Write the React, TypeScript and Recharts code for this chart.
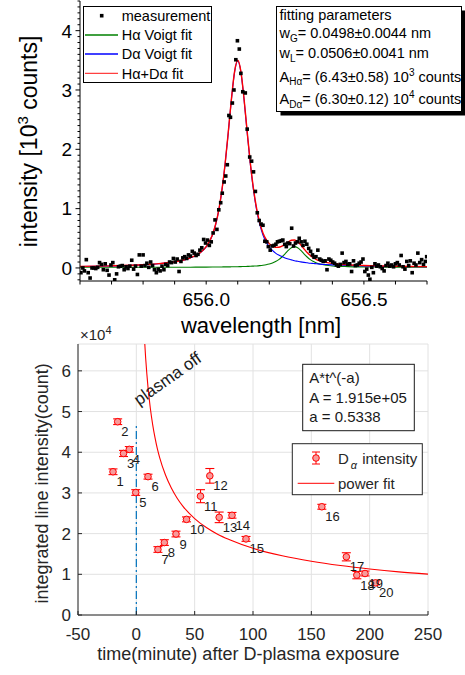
import { CartesianGrid, ComposedChart, ErrorBar, LabelList, Line, ReferenceLine, Scatter, XAxis, YAxis } from "recharts"

const FONT = "'Liberation Sans', Arial, Helvetica, sans-serif"
const INK = "#262626"

// top panel: measured spectrum around 656 nm
const wlMeas = [
  655.603, 655.609, 655.614, 655.620, 655.626, 655.632, 655.638, 655.644, 655.650, 655.656,
  655.662, 655.668, 655.674, 655.680, 655.686, 655.692, 655.698, 655.704, 655.710, 655.716,
  655.722, 655.728, 655.734, 655.740, 655.746, 655.752, 655.758, 655.764, 655.770, 655.776,
  655.782, 655.788, 655.794, 655.800, 655.806, 655.812, 655.818, 655.824, 655.830, 655.836,
  655.842, 655.848, 655.854, 655.860, 655.866, 655.872, 655.878, 655.884, 655.890, 655.896,
  655.902, 655.908, 655.914, 655.920, 655.926, 655.932, 655.938, 655.944, 655.950, 655.956,
  655.962, 655.968, 655.974, 655.980, 655.986, 655.992, 655.998, 656.004, 656.010, 656.016,
  656.022, 656.028, 656.034, 656.040, 656.046, 656.051, 656.057, 656.062, 656.067, 656.072,
  656.077, 656.083, 656.088, 656.094, 656.099, 656.105, 656.110, 656.116, 656.124, 656.130,
  656.138, 656.144, 656.150, 656.156, 656.162, 656.168, 656.174, 656.180, 656.186, 656.192,
  656.197, 656.203, 656.209, 656.215, 656.221, 656.226, 656.232, 656.238, 656.243, 656.249,
  656.254, 656.259, 656.265, 656.271, 656.277, 656.283, 656.289, 656.295, 656.301, 656.307,
  656.313, 656.319, 656.325, 656.331, 656.337, 656.342, 656.348, 656.354, 656.360, 656.365,
  656.371, 656.377, 656.383, 656.389, 656.395, 656.401, 656.407, 656.413, 656.419, 656.425,
  656.431, 656.437, 656.443, 656.449, 656.455, 656.461, 656.467, 656.473, 656.479, 656.485,
  656.491, 656.497, 656.503, 656.509, 656.514, 656.519, 656.525, 656.530, 656.535, 656.541,
  656.546, 656.552, 656.558, 656.564, 656.570, 656.576, 656.582, 656.588, 656.594, 656.600,
  656.606, 656.612, 656.618, 656.624, 656.630, 656.636, 656.642, 656.647, 656.653, 656.659,
  656.665, 656.671, 656.677, 656.683, 656.689, 656.695, 656.699,
]
const meas = [
  -0.08, 0.0, -0.05, 0.14, -0.08, -0.17, 0.0, 0.0, -0.01, 0.01,
  0.09, 0.06, -0.03, 0.07, -0.04, -0.12, 0.05, 0.09, -0.2, -0.1,
  0.02, 0.03, 0.04, -0.03, 0.02, -0.01, 0.03, 0.13, -0.02, 0.03,
  -0.11, 0.22, 0.03, 0.22, 0.04, 0.08, 0.01, 0.1, 0.04, -0.03,
  -0.08, -0.02, -0.05, 0.03, -0.03, 0.06, 0.04, 0.1, 0.09, 0.16,
  0.1, 0.15, -0.06, 0.11, 0.17, 0.19, 0.16, 0.22, 0.2, 0.28,
  0.25, 0.21, 0.23, 0.3, 0.34, 0.48, 0.42, 0.47, 0.38, 0.44,
  0.59, 0.81, 0.65, 0.98, 1.1, 1.26, 1.45, 1.55, 1.74, 2.57,
  2.54, 2.78, 3.0, 3.51, 3.83, 3.69, 3.28, 2.97, 2.95, 2.34,
  1.87, 1.8, 1.62, 1.29, 0.93, 0.8, 0.74, 0.72, 0.45, 0.44,
  0.36, 0.3, 0.37, 0.38, 0.4, 0.44, 0.45, 0.46, 0.47, 0.4,
  0.36, 0.42, 0.41, 0.67, 0.37, 0.42, 0.44, 0.5, 0.44, 0.38,
  0.45, 0.4, 0.33, 0.28, 0.22, 0.18, 0.19, 0.3, 0.15, 0.13,
  0.11, 0.12, -0.03, 0.15, 0.13, 0.1, 0.08, 0.05, 0.03, 0.06,
  0.25, 0.09, 0.11, 0.06, 0.07, -0.06, 0.12, 0.04, 0.05, 0.08,
  0.1, 0.15, -0.06, -0.02, -0.12, -0.19, 0.01, -0.08, 0.07, 0.03,
  0.05, 0.02, -0.01, -0.05, 0.04, 0.08, 0.03, 0.05, 0.02, 0.07,
  0.09, 0.05, 0.21, 0.02, -0.02, 0.11, 0.04, 0.12, -0.08, 0.08,
  0.05, 0.25, 0.09, 0.14, 0.06, 0.11, 0.19,
]
const wlFit = [
  655.6, 655.7, 655.8, 655.85, 655.9, 655.95, 655.98, 656.0, 656.02, 656.03,
  656.04, 656.05, 656.06, 656.07, 656.08, 656.09, 656.1, 656.11, 656.12, 656.13,
  656.14, 656.15, 656.16, 656.17, 656.18, 656.19, 656.2, 656.21, 656.22, 656.23,
  656.24, 656.25, 656.26, 656.27, 656.28, 656.29, 656.3, 656.31, 656.32, 656.33,
  656.34, 656.35, 656.36, 656.38, 656.4, 656.45, 656.5, 656.55, 656.6, 656.7,
]
const hFit = [
  0.011, 0.011, 0.012, 0.012, 0.012, 0.013, 0.014, 0.014, 0.015, 0.016,
  0.016, 0.017, 0.018, 0.018, 0.019, 0.02, 0.021, 0.023, 0.024, 0.026,
  0.028, 0.031, 0.034, 0.039, 0.045, 0.053, 0.065, 0.082, 0.107, 0.141,
  0.185, 0.238, 0.295, 0.341, 0.36, 0.341, 0.295, 0.238, 0.185, 0.141,
  0.107, 0.082, 0.065, 0.045, 0.034, 0.023, 0.018, 0.015, 0.014, 0.012,
]
const dFit = [
  0.025, 0.034, 0.052, 0.07, 0.102, 0.169, 0.25, 0.355, 0.556, 0.73,
  0.974, 1.312, 1.75, 2.279, 2.839, 3.302, 3.49, 3.302, 2.839, 2.279,
  1.75, 1.312, 0.974, 0.73, 0.556, 0.438, 0.355, 0.295, 0.25, 0.217,
  0.191, 0.169, 0.151, 0.136, 0.122, 0.112, 0.102, 0.094, 0.087, 0.08,
  0.075, 0.07, 0.065, 0.058, 0.052, 0.041, 0.034, 0.029, 0.025, 0.02,
]
const sumFit = [
  0.026, 0.035, 0.054, 0.072, 0.104, 0.172, 0.254, 0.359, 0.561, 0.736,
  0.98, 1.319, 1.757, 2.287, 2.847, 3.311, 3.501, 3.315, 2.853, 2.295,
  1.768, 1.333, 0.998, 0.759, 0.591, 0.481, 0.41, 0.367, 0.347, 0.348,
  0.366, 0.397, 0.436, 0.467, 0.472, 0.443, 0.387, 0.322, 0.262, 0.211,
  0.172, 0.142, 0.12, 0.093, 0.076, 0.054, 0.042, 0.034, 0.029, 0.022,
]
const wlTicks = [655.6, 655.7, 655.8, 655.9, 656.0, 656.1, 656.2, 656.3, 656.4, 656.5, 656.6, 656.7]
const wlLabelled = [656.0, 656.5]
const intTicks = [
  -0.2, -0.1, 0, 0.1, 0.2, 0.3, 0.4, 0.5, 0.6, 0.7, 0.8, 0.9, 1, 1.1, 1.2, 1.3, 1.4, 1.5, 1.6,
  1.7, 1.8, 1.9, 2, 2.1, 2.2, 2.3, 2.4, 2.5, 2.6, 2.7, 2.8, 2.9, 3, 3.1, 3.2, 3.3, 3.4, 3.5,
  3.6, 3.7, 3.8, 3.9, 4, 4.1, 4.2, 4.3, 4.4, 4.5,
]

// bottom panel: D-alpha line intensity vs time
const tPts = [-20, -16, -11, -6, -0.5, 10, 18.5, 24, 34, 43, 55, 63, 71, 82, 94, 159, 180, 189, 196, 205]
const dPts = [35200, 47500, 39700, 40700, 30100, 34000, 16100, 17800, 19900, 23500, 29200, 34200, 24000, 24500, 18700, 26600, 14300, 9800, 10200, 7900]
const dErr = [700, 700, 750, 700, 700, 600, 700, 700, 700, 600, 1600, 1800, 1300, 700, 600, 600, 1000, 900, 600, 500]
const ptNames = ["1", "2", "3", "4", "5", "6", "7", "8", "9", "10", "11", "12", "13", "14", "15", "16", "17", "18", "19", "20"]
const tFit = [5, 6, 7, 8, 9, 10, 12, 14, 16, 18, 20, 25, 30, 35, 40, 50, 60, 70, 80, 100, 125, 150, 175, 200, 225, 250]
const pFit = [81100, 73600, 67800, 63100, 59300, 56000, 50800, 46800, 43600, 40900, 38700, 34400, 31200, 28700, 26700, 23700, 21500, 19800, 18500, 16400, 14550, 13200, 12150, 11300, 10600, 10050]
const tTicks = [-50, 0, 50, 100, 150, 200, 250]
const cTicks = [0, 10000, 20000, 30000, 40000, 50000, 60000]

const fitRows = wlFit.map((wl, i) => ({ wl, h: hFit[i], d: dFit[i], s: sumFit[i] }))
const measRows = wlMeas.map((wl, i) => ({ wl, v: meas[i] }))
const powRows = tFit.map((t, i) => ({ t, p: pFit[i] }))
const ptRows = tPts.map((t, i) => ({ t, v: dPts[i], e: dErr[i], n: ptNames[i] }))

type Side = "left" | "right" | "top" | "bottom"

// custom tick: draws its own tick mark (len > 0 outward, < 0 inward) and optional label
function makeTick(side: Side, len: (v: number) => number, label: (v: number) => string, gap: number, fs: number, color: string) {
  return (p: any) => {
    const x = Number(p.x), y = Number(p.y)
    const v = Number(p.payload.value)
    const l = len(v)
    const s = label(v)
    const tp = { fontSize: fs, fill: color, fontFamily: FONT }
    if (side === "left")
      return <g><line x1={x} y1={y} x2={x - l} y2={y} stroke={color} />{s && <text x={x - gap} y={y} dy="0.36em" textAnchor="end" {...tp}>{s}</text>}</g>
    if (side === "right")
      return <g><line x1={x} y1={y} x2={x + l} y2={y} stroke={color} /></g>
    if (side === "top")
      return <g><line x1={x} y1={y} x2={x} y2={y - l} stroke={color} /></g>
    return <g><line x1={x} y1={y} x2={x} y2={y + l} stroke={color} />{s && <text x={x} y={y + gap} dy="0.72em" textAnchor="middle" {...tp}>{s}</text>}</g>
  }
}

const isInt = (v: number) => Math.abs(v - Math.round(v)) < 1e-6
const none = () => ""

const square = (p: any) => <rect x={p.cx - 1.8} y={p.cy - 1.8} width={3.6} height={3.6} fill="#000" />
const dot = (p: any) => <circle cx={p.cx} cy={p.cy} r={3.3} fill="#f79a9a" stroke="#ff0000" strokeWidth={1} />

const numLabel = (p: any) => {
  const w = Number(p.width) || 0
  const h = Number(p.height) || 0
  const cx = Number(p.x) + w / 2
  const cy = Number(p.y) + h / 2
  return <text x={cx + 3.5} y={cy + 14.5} fontSize={13} fill="#1a1a1a" fontFamily={FONT}>{p.value}</text>
}

function Spectrum() {
  const ax = { stroke: "#000" }
  return (
    <ComposedChart width={465} height={340} data={fitRows} margin={{ top: 1, right: 38, bottom: 0, left: 0 }}>
      <XAxis dataKey="wl" type="number" domain={[655.6, 656.7]} allowDataOverflow ticks={wlTicks} interval={0}
        height={59} tickSize={0} tickMargin={0} tickLine={false} axisLine={ax}
        tick={makeTick("bottom", () => 3.5, (v) => (wlLabelled.some((w) => Math.abs(w - v) < 1e-6) ? v.toFixed(1) : ""), 11, 19, "#000")} />
      <XAxis xAxisId="top" orientation="top" dataKey="wl" type="number" domain={[655.6, 656.7]} allowDataOverflow ticks={wlTicks} interval={0}
        height={0} tickSize={0} tickMargin={0} tickLine={false} axisLine={ax} tick={makeTick("top", () => 3.5, none, 0, 10, "#000")} />
      <YAxis type="number" domain={[-0.22, 4.5]} allowDataOverflow ticks={intTicks} interval={0} width={80}
        tickSize={0} tickMargin={0} tickLine={false} axisLine={ax}
        tick={makeTick("left", (v) => (isInt(v) ? 4.5 : 2.5), (v) => (isInt(v) && v >= 0 ? String(Math.round(v)) : ""), 8, 19, "#000")} />
      <YAxis yAxisId="right" orientation="right" type="number" domain={[-0.22, 4.5]} allowDataOverflow ticks={intTicks} interval={0} width={0}
        tickSize={0} tickMargin={0} tickLine={false} axisLine={ax}
        tick={makeTick("right", (v) => (isInt(v) ? 4.5 : 2.5), none, 0, 10, "#000")} />
      <Scatter data={measRows} dataKey="v" shape={square} isAnimationActive={false} />
      <Line dataKey="h" type="monotone" stroke="#008000" strokeWidth={1.1} dot={false} isAnimationActive={false} />
      <Line dataKey="d" type="monotone" stroke="#0000ff" strokeWidth={1.1} dot={false} isAnimationActive={false} />
      <Line dataKey="s" type="monotone" stroke="#ff0000" strokeWidth={1.4} dot={false} isAnimationActive={false} />
    </ComposedChart>
  )
}

function Decay() {
  const ax = { stroke: INK }
  return (
    <ComposedChart width={465} height={345} data={powRows} margin={{ top: 14, right: 37, bottom: 0, left: 0 }}>
      <CartesianGrid stroke="#e2e2e2" />
      <XAxis dataKey="t" type="number" domain={[-50, 250]} allowDataOverflow ticks={tTicks} interval={0}
        height={60} tickSize={0} tickMargin={0} tickLine={false} axisLine={ax}
        tick={makeTick("bottom", () => -4, (v) => String(v), 13, 17, INK)} />
      <XAxis xAxisId="top" orientation="top" dataKey="t" type="number" domain={[-50, 250]} allowDataOverflow ticks={tTicks} interval={0}
        height={0} tickSize={0} tickMargin={0} tickLine={false} axisLine={ax} tick={makeTick("top", () => -4, none, 0, 10, INK)} />
      <YAxis type="number" domain={[0, 66600]} allowDataOverflow ticks={cTicks} interval={0} width={78}
        tickSize={0} tickMargin={0} tickLine={false} axisLine={ax}
        tick={makeTick("left", () => -4, (v) => String(v / 10000), 7, 17, INK)} />
      <YAxis yAxisId="right" orientation="right" type="number" domain={[0, 66600]} allowDataOverflow ticks={cTicks} interval={0} width={0}
        tickSize={0} tickMargin={0} tickLine={false} axisLine={ax} tick={makeTick("right", () => -4, none, 0, 10, INK)} />
      <ReferenceLine segment={[{ x: 0, y: 0 }, { x: 0, y: 46700 }]} stroke="#0072BD" strokeWidth={1.2} strokeDasharray="8 3 2 3" />
      <Line dataKey="p" type="monotone" stroke="#ff0000" strokeWidth={1.1} dot={false} isAnimationActive={false} />
      <Scatter data={ptRows} dataKey="v" shape={dot} isAnimationActive={false}>
        <ErrorBar dataKey="e" direction="y" width={4.5} stroke="#ff0000" strokeWidth={1.1} isAnimationActive={false} />
        <LabelList dataKey="n" content={numLabel} />
      </Scatter>
    </ComposedChart>
  )
}

function Overlay() {
  return (
    <svg width={465} height={675} style={{ position: "absolute", left: 0, top: 0, pointerEvents: "none" }} fontFamily={FONT}>
      {/* top panel titles */}
      <text x={37} y={141.5} transform="rotate(-90 37 141.5)" textAnchor="middle" fontSize={23} fill="#000">
        intensity [10<tspan dy={-9} fontSize={15}>3</tspan><tspan dy={9}> counts]</tspan>
      </text>
      <text x={261} y={333} textAnchor="middle" fontSize={22} fill="#000">wavelength [nm]</text>

      {/* top legend */}
      <rect x={83.5} y={6.5} width={128} height={76} fill="#fff" stroke="#000" />
      <rect x={99.9} y={13.9} width={3.6} height={3.6} fill="#000" />
      <line x1={85} x2={118} y1={35} y2={35} stroke="#008000" strokeWidth={1.3} />
      <line x1={85} x2={118} y1={54} y2={54} stroke="#0000ff" strokeWidth={1.3} />
      <line x1={85} x2={118} y1={73.3} y2={73.3} stroke="#ff4040" strokeWidth={1.3} />
      <g fontSize={14.5} fill="#000">
        <text x={121.7} y={21}>measurement</text>
        <text x={121.7} y={40.3}>Hα Voigt fit</text>
        <text x={121.7} y={59.3}>Dα Voigt fit</text>
        <text x={121.7} y={78.6}>Hα+Dα fit</text>
      </g>

      {/* fit parameter box */}
      <rect x={280.5} y={10.5} width={185} height={105} fill="#000" />
      <rect x={276.5} y={6.5} width={185} height={105} fill="#fff" stroke="#000" />
      <g fontSize={14.5} fill="#000">
        <text x={279.5} y={20}>fitting parameters</text>
        <text x={279.5} y={38.3}>w<tspan dy={3.5} fontSize={10}>G</tspan><tspan dy={-3.5}>= 0.0498±0.0044 nm</tspan></text>
        <text x={279.5} y={58.3}>w<tspan dy={3.5} fontSize={10}>L</tspan><tspan dy={-3.5}>= 0.0506±0.0041 nm</tspan></text>
        <text x={279.5} y={81.7}>A<tspan dy={3.5} fontSize={10}>Hα</tspan><tspan dy={-3.5}>= (6.43±0.58) 10</tspan><tspan dy={-6} fontSize={10}>3</tspan><tspan dy={6}> counts</tspan></text>
        <text x={279.5} y={104.3}>A<tspan dy={3.5} fontSize={10}>Dα</tspan><tspan dy={-3.5}>= (6.30±0.12) 10</tspan><tspan dy={-6} fontSize={10}>4</tspan><tspan dy={6}> counts</tspan></text>
      </g>

      {/* bottom panel titles */}
      <text x={80} y={340} fontSize={15} fill={INK}>×10<tspan dy={-6} fontSize={11}>4</tspan></text>
      <text x={48} y={483.4} transform="rotate(-90 48 483.4)" textAnchor="middle" fontSize={18} fill={INK}>integrated line intensity(count)</text>
      <text x={248.4} y={660} textAnchor="middle" fontSize={18} fill={INK}>time(minute) after D-plasma exposure</text>
      <text x={139} y={406} transform="rotate(-35.5 139 406)" fontSize={17} fill="#1a1a1a">plasma off</text>

      {/* power-law text box */}
      <rect x={302.7} y={364.3} width={111.6} height={66.4} fill="#fff" stroke="#1a1a1a" />
      <g fontSize={15} fill="#1a1a1a">
        <text x={309.3} y={383.3}>A*t^(-a)</text>
        <text x={309.3} y={402.7}>A = 1.915e+05</text>
        <text x={309.3} y={422}>a = 0.5338</text>
      </g>

      {/* bottom legend */}
      <rect x={292.3} y={443.7} width={130} height={51} fill="#fff" stroke={INK} />
      <line x1={316} x2={316} y1={452} y2={464} stroke="#ff0000" />
      <line x1={312} x2={320} y1={452} y2={452} stroke="#ff0000" />
      <line x1={312} x2={320} y1={464} y2={464} stroke="#ff0000" />
      <circle cx={316} cy={458} r={3.3} fill="#f79a9a" stroke="#ff0000" />
      <line x1={297.7} x2={334.3} y1={483.3} y2={483.3} stroke="#ff0000" />
      <g fontSize={15} fill={INK}>
        <text x={338} y={463.5}>D<tspan dx={2} dy={5} fontSize={11} fontStyle="italic">α</tspan><tspan dx={5} dy={-5}>intensity</tspan></text>
        <text x={338} y={488.5}>power fit</text>
      </g>
    </svg>
  )
}

export default function App() {
  return (
    <div style={{ position: "absolute", left: 0, top: 0, width: 465, height: 675, background: "#fff" }}>
      <div style={{ position: "absolute", left: 0, top: 0 }}>
        <Spectrum />
      </div>
      <div style={{ position: "absolute", left: 0, top: 330 }}>
        <Decay />
      </div>
      <Overlay />
    </div>
  )
}
